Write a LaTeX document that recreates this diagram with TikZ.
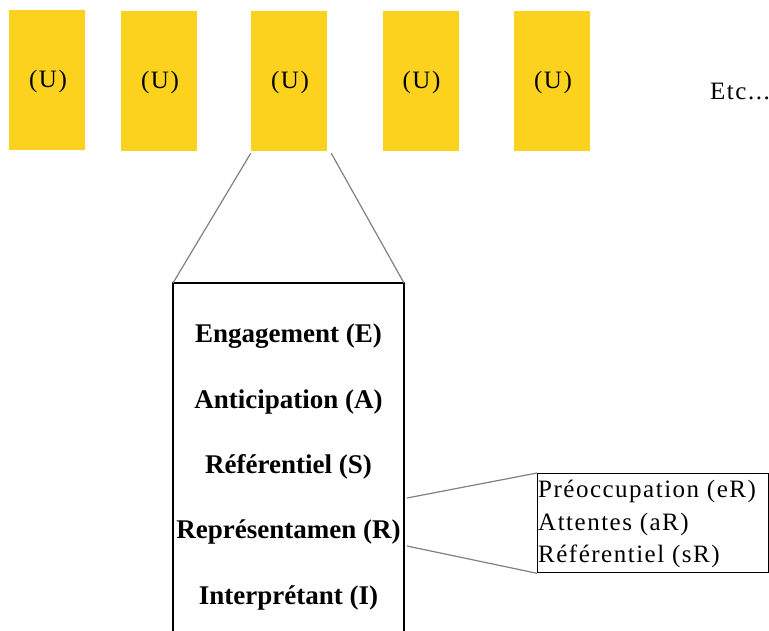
\documentclass[tikz,border=0pt]{standalone}
\usepackage{fontspec}
\setmainfont{Liberation Serif}
\newfontfamily\spacedfont[LetterSpace=6]{Liberation Serif}
\definecolor{uyellow}{RGB}{252,210,31}
\definecolor{lgray}{RGB}{128,128,128}
\begin{document}
\begin{tikzpicture}[x=1pt,y=-1pt,
  ubox/.style={fill=uyellow, draw=none, minimum width=76pt, minimum height=140pt, inner sep=0pt},
  utxt/.style={anchor=base, inner sep=0pt, font=\spacedfont\fontsize{25}{30}\selectfont},
  bigtxt/.style={anchor=base, inner sep=0pt, font=\fontsize{27}{32}\selectfont\bfseries},
  smalltxt/.style={anchor=base west, inner sep=0pt, font=\spacedfont\fontsize{25}{30}\selectfont},
  frame/.style={draw=black, line width=1.3pt},
  link/.style={draw=lgray, line width=1.2pt}]
\useasboundingbox (0,0) rectangle (769,630);
\node[ubox] (u1) at (47,79.5) {};
\node[ubox] (u2) at (159,81) {};
\node[ubox] (u3) at (289,81) {};
\node[ubox] (u4) at (420.5,81) {};
\node[ubox] (u5) at (552,81) {};
\node[utxt] (t1) at (48,87) {(U)};
\node[utxt] (t2) at (160,88) {(U)};
\node[utxt] (t3) at (290,88) {(U)};
\node[utxt] (t4) at (421.5,88) {(U)};
\node[utxt] (t5) at (553,88) {(U)};
\node[anchor=base west, inner sep=0pt, font=\spacedfont\fontsize{25}{30}\selectfont] (etc) at (710,99) {Etc...};
% big box (open at the bottom, runs past the page)
\coordinate (btl) at (173,283);
\coordinate (btr) at (404,283);
\coordinate (bbl) at (173,640);
\coordinate (bbr) at (404,640);
\draw[frame] (bbl) -- (btl) -- (btr) -- (bbr);
\draw[link] (u3.south west) ++(0,2) -- (btl);
\draw[link] (u3.south east) ++(4,2) -- (btr);
\node[bigtxt] (e) at (288.5,342) {Engagement (E)};
\node[bigtxt] (a) at (288.5,408) {Anticipation (A)};
\node[bigtxt] (s) at (288.5,473) {Référentiel (S)};
\node[bigtxt] (r) at (288.5,538) {Représentamen (R)};
\node[bigtxt] (i) at (288.5,604) {Interprétant (I)};
% small box
\node[frame, anchor=north west, minimum width=231pt, minimum height=99pt, inner sep=0pt] (sb) at (537,473) {};
\node[smalltxt] (er) at (538,497) {Préoccupation (eR)};
\node[smalltxt] (ar) at (538,530) {Attentes (aR)};
\node[smalltxt] (sr) at (538,562) {Référentiel (sR)};
\coordinate (l1) at (407,498);
\coordinate (l2) at (407,546);
\draw[link] (l1) -- (sb.north west);
\draw[link] (l2) -- (sb.south west);
\end{tikzpicture}
\end{document}
